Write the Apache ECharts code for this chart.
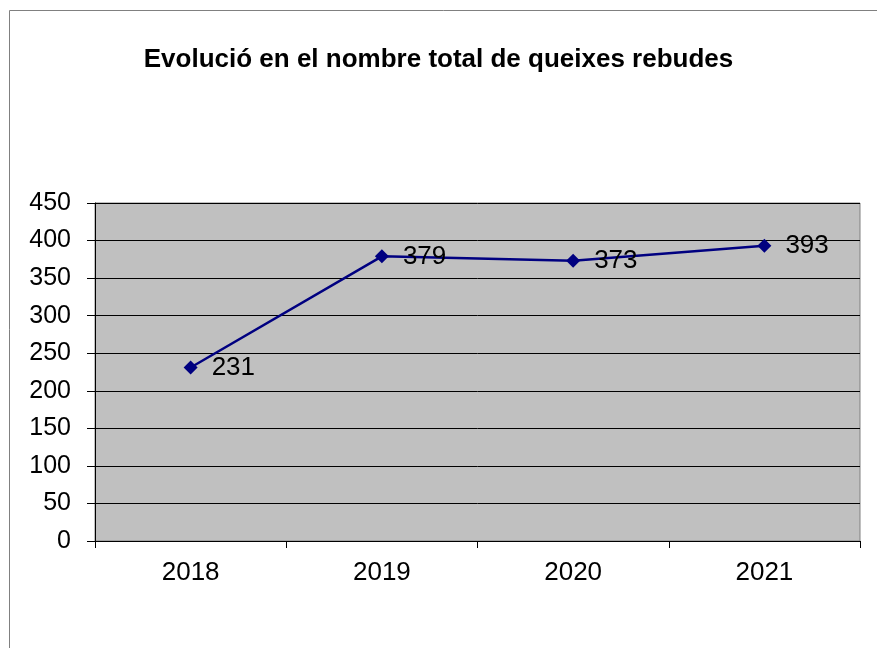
<!DOCTYPE html>
<html>
<head>
<meta charset="utf-8">
<script src="https://cdn.jsdelivr.net/npm/echarts@6/dist/echarts.min.js"></script>
<style>
  html, body { margin: 0; padding: 0; background: #fff; }
  #chart { width: 877px; height: 648px; }
</style>
</head>
<body>
<div id="chart"></div>
<script>
var years = ['2018', '2019', '2020', '2021']
var queixes = [231, 379, 373, 393]

var myChart = echarts.init(document.getElementById('chart'))
var option = {
  animation: false,
  title: {
    text: 'Evolució en el nombre total de queixes rebudes',
    left: 'center',
    top: 42,
    textStyle: {
      fontFamily: 'Liberation Sans',
      fontWeight: 'bold',
      fontSize: 26,
      color: '#000',
    },
  },
  graphic: [
    {
      type: 'rect',
      shape: { x: 9.5, y: 10.5, width: 900, height: 700 },
      style: { fill: 'none', stroke: '#808080', lineWidth: 1 },
      silent: true,
    },
  ],
  grid: {
    left: 95,
    right: 17,
    top: 203,
    bottom: 107,
    show: true,
    backgroundColor: '#C0C0C0',
    borderColor: '#808080',
    borderWidth: 1,
  },
  xAxis: {
    type: 'category',
    data: years,
    boundaryGap: true,
    axisLine: { show: true, lineStyle: { color: '#000', width: 1 } },
    axisTick: { show: true, length: 7, lineStyle: { color: '#000' } },
    axisLabel: {
      margin: 19,
      fontFamily: 'Liberation Sans',
      fontSize: 26,
      color: '#000',
    },
    splitLine: { show: false },
  },
  yAxis: {
    type: 'value',
    min: 0,
    max: 450,
    interval: 50,
    axisLine: { show: true, lineStyle: { color: '#000', width: 1 } },
    axisTick: { show: true, length: 8, lineStyle: { color: '#000' } },
    axisLabel: {
      margin: 24,
      fontFamily: 'Liberation Sans',
      fontSize: 25,
      color: '#000',
    },
    splitLine: { show: true, lineStyle: { color: '#000', width: 1 } },
  },
  series: [
    {
      type: 'line',
      data: queixes,
      symbol: 'diamond',
      symbolSize: 14,
      itemStyle: { color: '#000080' },
      lineStyle: { color: '#000080', width: 2.5 },
      label: {
        show: true,
        position: 'right',
        distance: 14,
        fontFamily: 'Liberation Sans',
        fontSize: 26,
        color: '#000',
      },
    },
  ],
}
myChart.setOption(option)
</script>
</body>
</html>
